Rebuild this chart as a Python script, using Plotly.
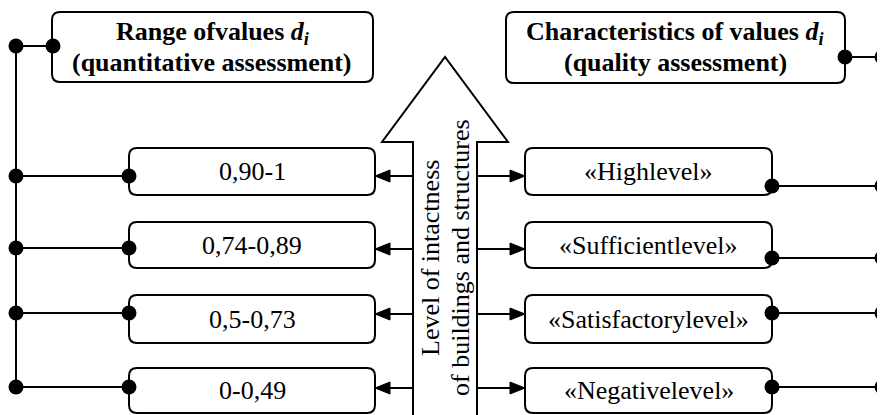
import plotly.graph_objects as go

# ---- content ----
range_labels = ["0,90-1", "0,74-0,89", "0,5-0,73", "0-0,49"]
quality_labels = ["«Highlevel»", "«Sufficientlevel»", "«Satisfactorylevel»", "«Negativelevel»"]
header_left = ["<b>Range ofvalues <i>d<sub>i</sub></i></b>", "<b>(quantitative assessment)</b>"]
header_right = ["<b>Characteristics of values <i>d<sub>i</sub></i></b>", "<b>(quality assessment)</b>"]
arrow_text = ["Level of intactness", "of buildings and structures"]

# ---- layout geometry (pixel space of the page) ----
W, H = 885, 415
OFF = 8  # default page body margin
FONT = "'Liberation Serif', Tinos, 'Times New Roman', Times, 'DejaVu Serif', serif"
LW = 2
row_top = [148, 222, 295, 368]
row_bot = [195, 268, 343, 413]
row_arrow_y = [176, 249, 314, 388]
left_dot_y = [176, 248, 313, 387]
right_dot_y = [186, 258, 313, 387]
LBX0, LBX1 = 129, 375
RBX0, RBX1 = 525, 772
LEFT_BUS, RIGHT_BUS = 16, 883
SH_L, SH_R = 413, 477

shapes = []


def rrect(x0, y0, x1, y1, r=8):
    p = (f"M{x0+r},{y0} L{x1-r},{y0} Q{x1},{y0} {x1},{y0+r} "
         f"L{x1},{y1-r} Q{x1},{y1} {x1-r},{y1} L{x0+r},{y1} "
         f"Q{x0},{y1} {x0},{y1-r} L{x0},{y0+r} Q{x0},{y0} {x0+r},{y0} Z")
    shapes.append(dict(type="path", path=p, line=dict(color="black", width=LW),
                       fillcolor="rgba(0,0,0,0)", layer="below"))


def line(x0, y0, x1, y1):
    shapes.append(dict(type="line", x0=x0, y0=y0, x1=x1, y1=y1,
                       line=dict(color="black", width=LW), layer="below"))


def tri(tipx, y, direction, L=15, hw=6):
    bx = tipx + L * direction
    p = f"M{tipx},{y} L{bx},{y-hw} L{bx},{y+hw} Z"
    shapes.append(dict(type="path", path=p, line=dict(color="black", width=1),
                       fillcolor="black", layer="above"))


# header boxes
rrect(52, 12, 373, 82)
rrect(506, 12, 845, 83)

# big arrow
arrow_path = (f"M{SH_L},{H+5} L{SH_L},142 L382,142 L445,57 L508,142 "
              f"L{SH_R},142 L{SH_R},{H+5}")
shapes.append(dict(type="path", path=arrow_path, line=dict(color="black", width=LW),
                   fillcolor="white", layer="below"))

# buses
line(LEFT_BUS, 46, LEFT_BUS, left_dot_y[-1])
line(LEFT_BUS, 46, 53, 46)
line(RIGHT_BUS, 57, RIGHT_BUS, right_dot_y[-1])
line(845, 57, RIGHT_BUS, 57)

dots_x, dots_y = [16, 53, 845, RIGHT_BUS - 1], [46, 46, 57, 57]

for i in range(len(range_labels)):
    rrect(LBX0, row_top[i], LBX1, row_bot[i])
    rrect(RBX0, row_top[i], RBX1, row_bot[i])
    line(LEFT_BUS, left_dot_y[i], LBX0, left_dot_y[i])
    line(RBX1, right_dot_y[i], RIGHT_BUS, right_dot_y[i])
    dots_x += [LEFT_BUS, LBX0, RBX1, RIGHT_BUS - 1]
    dots_y += [left_dot_y[i], left_dot_y[i], right_dot_y[i], right_dot_y[i]]
    line(SH_L, row_arrow_y[i], LBX1 + 10, row_arrow_y[i])
    tri(LBX1, row_arrow_y[i], +1)
    line(SH_R, row_arrow_y[i], RBX0 - 10, row_arrow_y[i])
    tri(RBX0, row_arrow_y[i], -1)

fig = go.Figure()
fig.add_trace(go.Scatter(x=dots_x, y=dots_y, mode="markers",
                         marker=dict(size=15, color="black"),
                         hoverinfo="skip", showlegend=False))

annotations = []


def text(x, y, s, size=26, angle=0):
    annotations.append(dict(x=x, y=y, text=s, showarrow=False, textangle=angle,
                            xanchor="center", yanchor="middle",
                            font=dict(family=FONT, size=size, color="black")))


text(212, 33, header_left[0], size=26)
text(212, 62, header_left[1], size=26)
text(675, 33, header_right[0], size=26)
text(675, 62, header_right[1], size=26)

for i in range(len(range_labels)):
    cy = (row_top[i] + row_bot[i]) / 2
    text((LBX0 + LBX1) / 2, cy, range_labels[i])
    text((RBX0 + RBX1) / 2, cy, quality_labels[i])

text(430, 258, arrow_text[0], angle=-90)
text(460, 258, arrow_text[1], angle=-90)

fig.update_layout(
    width=W - OFF, height=H - OFF, margin=dict(l=0, r=0, t=0, b=0),
    paper_bgcolor="white", plot_bgcolor="white",
    font=dict(family=FONT),
    xaxis=dict(range=[OFF, W], visible=False, fixedrange=True),
    yaxis=dict(range=[H, OFF], visible=False, fixedrange=True),
    shapes=shapes, annotations=annotations, showlegend=False,
)
fig.write_html("out.html")
